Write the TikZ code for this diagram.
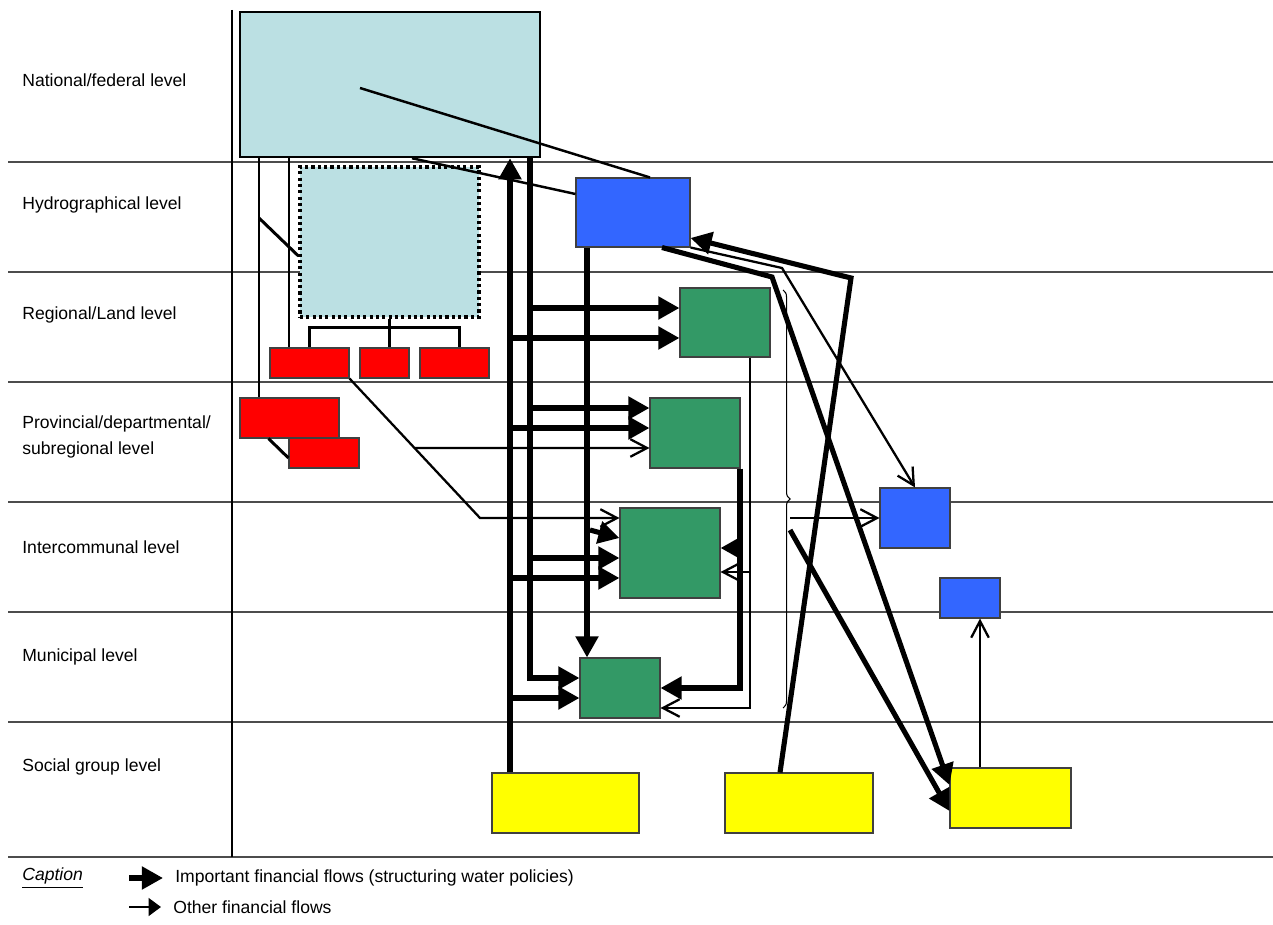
\documentclass[tikz,border=0pt]{standalone}
\usepackage{fontspec}
\setmainfont{Liberation Sans}
\usetikzlibrary{arrows.meta,fit,decorations.pathreplacing}

\definecolor{natfill}{RGB}{187,224,227}
\definecolor{agblue}{RGB}{51,102,255}
\definecolor{grn}{RGB}{51,153,102}
\definecolor{rd}{RGB}{255,0,0}
\definecolor{yl}{RGB}{255,255,0}

\tikzset{
	natbox/.style={draw,fill=natfill,line width=1.4pt,inner sep=0pt},
	flatbox/.style={draw=black!75,line width=0.6pt,inner sep=0pt},
	redbox/.style={flatbox,fill=rd},
	grnbox/.style={flatbox,fill=grn},
	bluebox/.style={flatbox,fill=agblue},
	yelbox/.style={flatbox,fill=yl},
	lvltext/.style={anchor=west,align=left,inner sep=0pt,font=\fontsize{10pt}{15.3pt}\selectfont},
	gridline/.style={black!70,line width=0.8pt},
	link/.style={line width=1.7pt},
	smallflow/.style={line width=1.3pt,-{Straight Barb[length=9.5pt,width=10pt]}},
	bigflow/.style={line width=2.9pt,-{Triangle[length=12pt,width=12.5pt]}}
}

\begin{document}
\begin{tikzpicture}[x=0.02cm,y=-0.02cm]
	\useasboundingbox (0,0) rectangle (1273,925);
	
	\foreach \y in {162,272,382,502,612,722,857}
		\draw[gridline] (8,\y) -- (1273,\y);
	\draw[line width=1.1pt] (232,10) -- (232,857);
	
	\node[lvltext] (lvnat) at (22,80) {National/federal level};
	\node[lvltext] (lvhyd) at (22,205) {Hydrographical level};
	\node[lvltext] (lvreg) at (22,315) {Regional/Land level};
	\node[lvltext] (lvprov) at (22,437) {Provincial/departmental/\\subregional level};
	\node[lvltext] (lvint) at (22,547) {Intercommunal level};
	\node[lvltext] (lvmun) at (22,657) {Municipal level};
	\node[lvltext] (lvsoc) at (22,767) {Social group level};
	
	% boxes
	\node[natbox,fit={(240,12)(540,157)}] (nat) {};
	\node[natbox,line width=1.8pt,dash pattern=on 1.8pt off 1.8pt,fit={(300,167)(479,317)}] (basin) {};
	\node[bluebox,fit={(576,178)(690,247)}] (agency) {};
	\node[redbox,fit={(270,348)(349,378)}] (reg1) {};
	\node[redbox,fit={(360,348)(409,378)}] (reg2) {};
	\node[redbox,fit={(420,348)(489,378)}] (reg3) {};
	\node[redbox,fit={(240,398)(339,438)}] (prov1) {};
	\node[redbox,fit={(289,438)(359,468)}] (prov2) {};
	\node[grnbox,fit={(680,288)(770,357)}] (grnreg) {};
	\node[grnbox,fit={(650,398)(740,468)}] (grnprov) {};
	\node[grnbox,fit={(620,508)(720,598)}] (grnint) {};
	\node[grnbox,fit={(580,658)(660,718)}] (grnmun) {};
	\node[bluebox,fit={(880,488)(950,548)}] (subb) {};
	\node[bluebox,fit={(940,578)(1000,618)}] (subc) {};
	\node[yelbox,fit={(492,773)(639,833)}] (soc1) {};
	\node[yelbox,fit={(725,773)(873,833)}] (soc2) {};
	\node[yelbox,fit={(950,768)(1071,828)}] (soc3) {};
	
	\coordinate (tA) at (510,0);
	\coordinate (tB) at (530,0);
	\coordinate (tC) at (587,0);
	\coordinate (tD) at (740,0);
	\coordinate (tE) at (750,0);
	\coordinate (lA) at (259,0);
	\coordinate (lB) at (289,0);
	
	% national tree
	\draw[link] (nat.south -| lA) -- (prov1.north -| lA);
	\draw[link] (nat.south -| lB) -- (reg1.north -| lB);
	\coordinate (jA) at (259,218);
	\draw[link] (jA) -- ([yshift=-0.28cm]basin.west);
	\draw[link] (basin.south) -- (basin.south |- reg2.north);
	\draw[link] (reg1.north) -- ++(0,-20) -| ([xshift=0.1cm]reg3.north);
	\draw[link] ([xshift=0.58cm]prov1.south west) -- ([yshift=-0.1cm]prov2.west);
	\coordinate (nj) at (360,88);
	\draw[line width=1.4pt] (nj) -- ([xshift=0.34cm]agency.north);
	\draw[line width=1.4pt] ([xshift=0.44cm]nat.south) -- ([yshift=0.37cm]agency.west);
	
	\coordinate (rk) at (480,518);
	\coordinate (rj) at (415,448);
	\draw[smallflow] (reg1.south east) -- (rk) -- ([yshift=0.7cm]grnint.west);
	\draw[smallflow] (rj) -- ([yshift=-0.3cm]grnprov.west);
	
	% trunks
	\draw[bigflow,line width=3.6pt] (soc1.north -| tA) -- (nat.south -| tA);
	\draw[bigflow] (nat.south -| tB) |- ([yshift=0.2cm]grnmun.west);
	\foreach \n/\s in {grnreg/0.29,grnprov/0.5,grnint/-0.1}
		\draw[bigflow] ([yshift=\s cm]\n.west -| tB) -- ([yshift=\s cm]\n.west);
	\foreach \n/\s in {grnreg/-0.31,grnprov/0.1,grnint/-0.5,grnmun/-0.2}
		\draw[bigflow] ([yshift=\s cm]\n.west -| tA) -- ([yshift=\s cm]\n.west);
	
	\draw[bigflow] (agency.south -| tC) -- (grnmun.north -| tC);
	\coordinate (cb) at (590,530);
	\draw[bigflow] (cb) -- ([yshift=0.3cm]grnint.west);
	
	\draw[bigflow] (grnprov.south -| tD) |- (grnmun.east);
	\draw[bigflow] ([yshift=0.1cm]grnint.east -| tD) -- ([yshift=0.1cm]grnint.east);
	\draw[smallflow] (grnreg.south -| tE) |- ([yshift=-0.4cm]grnmun.east);
	\draw[smallflow] ([yshift=-0.38cm]grnint.east -| tE) -- ([yshift=-0.38cm]grnint.east);
	
	% right side
	\coordinate (bA) at (772,277);
	\coordinate (bB) at (851,278);
	\coordinate (bC) at (782,268);
	\draw[bigflow] ([xshift=0.58cm]agency.south) -- (bA) -- ([yshift=0.26cm]soc3.west);
	\draw[bigflow] ([xshift=-0.38cm]soc2.north) -- (bB) -- ([yshift=-0.51cm]agency.east);
	\draw[smallflow] (agency.south east) -- (bC) -- (subb.north);
	
	\coordinate (brtop) at (783,290);
	\coordinate (brbot) at (783,708);
	\draw[line width=0.6pt,decorate,decoration={brace,amplitude=4pt}] (brtop) -- (brbot);
	\coordinate (brx) at (790,0);
	\draw[smallflow] (subb.west -| brx) -- (subb.west);
	\coordinate (bs) at (790,530);
	\draw[bigflow] (bs) -- ([yshift=-0.26cm]soc3.west);
	\draw[smallflow] ([xshift=0.2cm]subc.south |- soc3.north) -- ([xshift=0.2cm]subc.south);
	
	% caption
	\node[lvltext] (cap) at (22,878) {\textit{\underline{Caption}}};
	\node[lvltext] (imp) at (175,878) {Important financial flows (structuring water policies)};
	\node[lvltext] (oth) at (173,907) {Other financial flows};
	\draw[bigflow] ([xshift=-0.92cm]imp.west) -- ([xshift=-0.24cm]imp.west);
	\draw[line width=1.3pt,-{Triangle[length=7pt,width=10pt]}] ([xshift=-0.88cm]oth.west) -- ([xshift=-0.24cm]oth.west);
\end{tikzpicture}
\end{document}
